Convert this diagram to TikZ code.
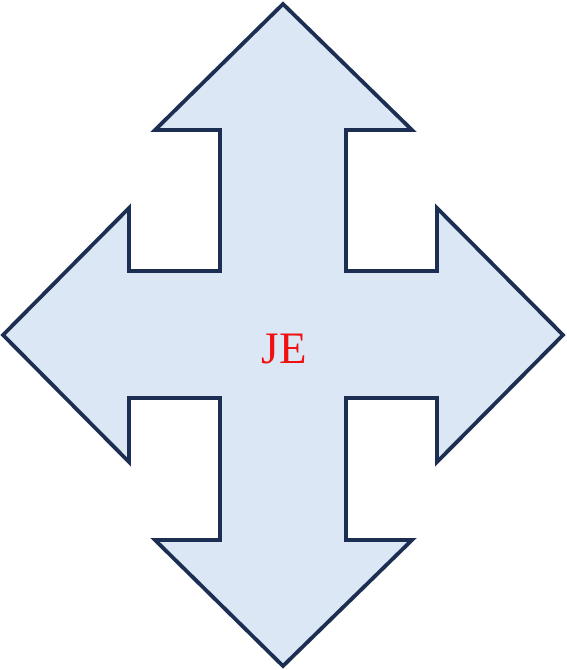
\documentclass[tikz,border=0pt]{standalone}
\usepackage{fontspec}
\setmainfont{Liberation Serif}
\definecolor{edge}{HTML}{1C2F52}
\definecolor{fillblue}{HTML}{DBE7F5}
\definecolor{jered}{HTML}{F01010}
\tikzset{arrowshape/.style={draw=edge, line width=3.8pt, fill=fillblue, line join=miter},
lbl/.style={text=jered, font=\fontsize{45}{45}\selectfont, inner sep=0pt}}
\begin{document}
\begin{tikzpicture}[x=1pt,y=-1pt]
\useasboundingbox (0,0) rectangle (567,670);
\draw[arrowshape] (283,4) -- (412,130) -- (346,130) -- (346,271) -- (437,271) -- (437,208)
 -- (563,335) -- (437,462) -- (437,398) -- (346,398) -- (346,540) -- (412,540)
 -- (283,666) -- (155,540) -- (220,540) -- (220,398) -- (129,398) -- (129,462)
 -- (3,335) -- (129,208) -- (129,271) -- (220,271) -- (220,130) -- (155,130) -- cycle;
\node[lbl, anchor=base] (je) at (284,363) {JE};
\end{tikzpicture}
\end{document}
